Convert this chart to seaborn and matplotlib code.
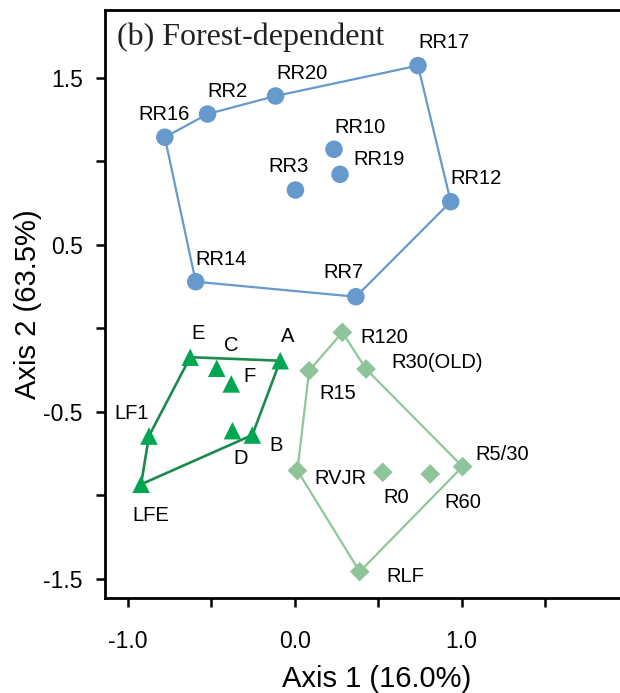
import matplotlib
matplotlib.use("Agg")
import matplotlib.pyplot as plt
import seaborn as sns
import pandas as pd

# Ordination scores
forest_names = ["RR17", "RR20", "RR2", "RR16", "RR10", "RR19", "RR3", "RR12", "RR14", "RR7"]
forest_x = [0.739, -0.114, -0.521, -0.777, 0.236, 0.272, 0.005, 0.935, -0.592, 0.367]
forest_y = [1.574, 1.392, 1.284, 1.145, 1.073, 0.923, 0.829, 0.759, 0.280, 0.190]

tri_names = ["E", "A", "C", "F", "LF1", "D", "B", "LFE"]
tri_x = [-0.625, -0.086, -0.466, -0.379, -0.872, -0.372, -0.253, -0.919]
tri_y = [-0.172, -0.193, -0.238, -0.332, -0.644, -0.612, -0.638, -0.933]

dia_names = ["R120", "R15", "R30(OLD)", "R5/30", "RVJR", "R0", "R60", "RLF"]
dia_x = [0.286, 0.087, 0.428, 1.006, 0.017, 0.528, 0.812, 0.390]
dia_y = [-0.023, -0.253, -0.243, -0.827, -0.851, -0.861, -0.871, -1.456]

# convex hull outlines (vertex order)
forest_hull = ["RR16", "RR2", "RR20", "RR17", "RR12", "RR7", "RR14", "RR16"]
tri_hull = ["E", "A", "B", "LFE", "LF1", "E"]
dia_hull = ["R120", "R30(OLD)", "R5/30", "RLF", "RVJR", "R15", "R120"]

xtick_values = [-1.0, -0.5, 0.0, 0.5, 1.0, 1.5]
xtick_labels = ["-1.0", "", "0.0", "", "1.0", ""]
ytick_values = [-1.5, -1.0, -0.5, 0.0, 0.5, 1.0, 1.5]
ytick_labels = ["-1.5", "", "-0.5", "", "0.5", "", "1.5"]

# label offsets in pixels (right, down)
label_offsets = {
    "RR17": (25.6, -25), "RR20": (26, -24.5), "RR2": (19.6, -25), "RR16": (-1, -25),
    "RR10": (26, -24), "RR19": (39.5, -17), "RR3": (-7, -26), "RR12": (25.7, -25),
    "RR14": (25.6, -24), "RR7": (-12.5, -26),
    "E": (7.5, -26), "A": (7, -26), "C": (14, -25), "F": (18.7, -9.5),
    "LF1": (-17, -25), "D": (8, 26), "B": (23.5, 8), "LFE": (10, 29),
    "R120": (42, 3), "R30(OLD)": (71, -9), "R15": (29, 20.5), "R5/30": (40, -13.7),
    "RVJR": (42.7, 6), "R0": (13, 23.5), "R60": (32.4, 26.5), "RLF": (45.5, 3),
}

sns.set_style("ticks")
plt.rcParams['font.family'] = ['Liberation Sans', 'DejaVu Sans']
plt.rcParams['text.color'] = 'black'
plt.rcParams['axes.labelcolor'] = 'black'
plt.rcParams['xtick.color'] = 'black'
plt.rcParams['ytick.color'] = 'black'

df = pd.concat([
    pd.DataFrame({'name': forest_names, 'x': forest_x, 'y': forest_y, 'group': 'forest'}),
    pd.DataFrame({'name': tri_names, 'x': tri_x, 'y': tri_y, 'group': 'tri'}),
    pd.DataFrame({'name': dia_names, 'x': dia_x, 'y': dia_y, 'group': 'dia'}),
], ignore_index=True)

palette = {'forest': '#6699CC', 'tri': '#00A651', 'dia': '#8DC49A'}
line_colors = {'forest': '#6699CC', 'tri': '#1A8B4B', 'dia': '#8FC79A'}
markers = {'forest': 'o', 'tri': '^', 'dia': 'D'}
sizes = {'forest': 159, 'tri': 159, 'dia': 100}

fig = plt.figure(figsize=(6.2, 6.93), dpi=100)
ax = fig.add_axes([0.1690, 0.1375, 0.8777, 0.8481])

pos = df.set_index('name')
for grp, hull in [('forest', forest_hull), ('tri', tri_hull), ('dia', dia_hull)]:
    ax.plot(pos.loc[hull, 'x'], pos.loc[hull, 'y'], color=line_colors[grp],
            lw=1.6 if grp != 'tri' else 1.9, zorder=1)

sns.scatterplot(data=df, x='x', y='y', hue='group', style='group', size='group',
                palette=palette, markers=markers, sizes=sizes, linewidth=0,
                legend=False, ax=ax, zorder=3, alpha=1)

for _, row in df.iterrows():
    dx, dy = label_offsets[row['name']]
    ax.annotate(row['name'], (row['x'], row['y']), xytext=(dx, -(dy + 2)),
                textcoords='offset pixels', ha='center', va='center',
                fontsize=14.5, color='black', zorder=4)

ax.annotate("(b) Forest-dependent", (0, 1), xycoords='axes fraction',
            xytext=(12, -35), textcoords='offset pixels', ha='left', va='baseline',
            fontsize=23, family=['Liberation Serif', 'DejaVu Serif'], color='#222222')

ax.set_xlim(-1.1365, 2.122)
ax.set_ylim(-1.612, 1.907)
ax.set_xticks(xtick_values)
ax.set_xticklabels(xtick_labels)
ax.set_yticks(ytick_values)
ax.set_yticklabels(ytick_labels)
ax.tick_params(axis='both', direction='out', length=6.5, width=1.8, labelsize=16.5, color='black')
ax.tick_params(axis='x', pad=17)
ax.tick_params(axis='y', pad=9.2)

ax.spines['right'].set_visible(False)
for s in ['top', 'left', 'bottom']:
    ax.spines[s].set_linewidth(2.0)
    ax.spines[s].set_color('black')

ax.set_xlabel("Axis 1 (16.0%)", fontsize=21)
ax.set_ylabel("Axis 2 (63.5%)", fontsize=21)
ax.xaxis.set_label_coords(0.5, -0.1137)
ax.yaxis.set_label_coords(-0.1145, 0.5)

fig.savefig("out.png", dpi=100)
